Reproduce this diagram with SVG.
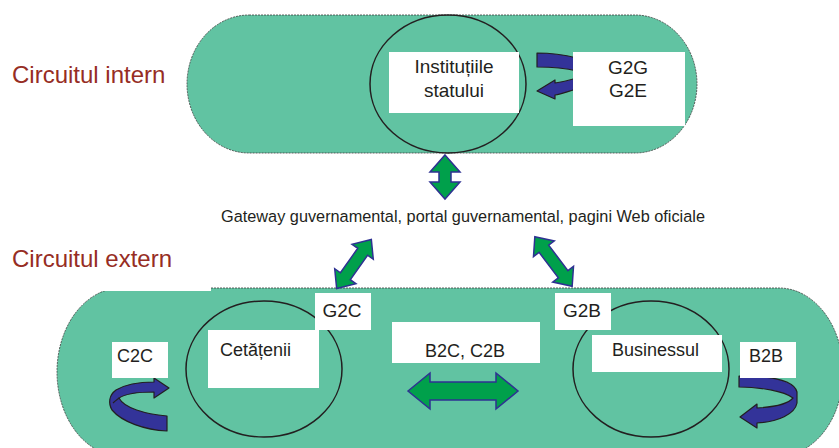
<svg xmlns="http://www.w3.org/2000/svg" width="839" height="448" viewBox="0 0 839 448">
<style>
.cap{fill:#61c3a2;stroke:#3a3a3a;stroke-width:0.8;stroke-dasharray:2 1}
.ell{fill:none;stroke:#231f20;stroke-width:1.5}
.box{fill:#ffffff}
.t{font-family:"Liberation Sans",Arial,sans-serif;fill:#231f20}
.lab{font-family:"Liberation Sans",Arial,sans-serif;font-size:24px;fill:#962d24}
.ga{fill:#00a04b;stroke:#2e3192;stroke-width:1.5;stroke-linejoin:miter}
.ba{fill:#333399;stroke:#231f20;stroke-width:1.2;stroke-linejoin:round}
</style>
<rect width="839" height="448" fill="#ffffff"/>

<g id="circuit-intern">
  <rect class="cap" x="187" y="15" width="510" height="138" rx="62" ry="69"/>
</g>
<g id="circuit-extern">
  <rect class="cap" x="57" y="288" width="786" height="168" rx="64" ry="84"/>
  <rect x="0" y="228" width="211" height="63" fill="#ffffff"/>
</g>

<text class="lab" x="12" y="83">Circuitul intern</text>
<text class="lab" x="12" y="267">Circuitul extern</text>

<g id="connectors">
  <polygon class="ga" points="445,155 460,172 451,172 451,182 460,182 445,199 430,182 439,182 439,172 430,172"/>
  <polygon class="ga" transform="translate(354,264) rotate(-54.7)" points="-30,0 -15,-13 -15,-6 15,-6 15,-13 30,0 15,13 15,6 -15,6 -15,13"/>
  <polygon class="ga" transform="translate(553.5,261.5) rotate(53)" points="-31,0 -16,-13 -16,-6 16,-6 16,-13 31,0 16,13 16,6 -16,6 -16,13"/>
  <polygon class="ga" points="408,391 430,373 430,382 496,382 496,373 518,391 496,409 496,400 430,400 430,409"/>
  <path class="ba" d="M537,53 L537,67 C552,67 565,68 577,71 L577,58 C565,55 552,53 537,53 Z"/>
  <path class="ba" d="M537,91 L555,80 L555,83 C563,82 570,80 577,78 L577,89 C569,91 562,94 555,95 L555,99 Z"/>
  <path class="ba" d="M167,431 C145,430 122,422 112,410 C108,403 109,395 116,390 C126,384 140,382 154,382 L154,378 L169,388 L154,398 L154,392 C140,392 125,394 119,398 C124,408 145,414 167,416 Z"/>
  <path class="ba" d="M113,403 C116,400 118,399 119,398"/>
  <path class="ba" d="M739,376 L739,387 C760,387 784,391 793,398 C788,404 775,407 757,408 L757,404 L740,417 L757,428 L757,423 C778,422 795,414 797,403 L797,392 C794,380 770,376 739,376 Z"/>
</g>

<g id="node-institutii">
  <ellipse class="ell" cx="448" cy="84" rx="78" ry="69"/>
  <rect class="box" x="389" y="52" width="130" height="61"/>
  <text class="t" x="454" y="73" font-size="19" text-anchor="middle">Instituțiile</text>
  <text class="t" x="454" y="97" font-size="19" text-anchor="middle">statului</text>
</g>
<g id="node-g2g">
  <rect class="box" x="573" y="52" width="112" height="74"/>
  <text class="t" x="628" y="74" font-size="19" text-anchor="middle">G2G</text>
  <text class="t" x="628" y="97" font-size="19" text-anchor="middle">G2E</text>
</g>

<text class="t" x="463" y="222" font-size="16.3" text-anchor="middle">Gateway guvernamental, portal guvernamental, pagini Web oficiale</text>

<g id="node-cetateni">
  <ellipse class="ell" cx="264" cy="369" rx="78" ry="68"/>
  <rect class="box" x="208" y="330" width="111" height="58"/>
  <text class="t" x="220" y="356" font-size="18">Cetățenii</text>
</g>
<g id="node-g2c">
  <rect class="box" x="315" y="293" width="56" height="37"/>
  <text class="t" x="342" y="317" font-size="19" text-anchor="middle">G2C</text>
</g>
<g id="node-c2c">
  <rect class="box" x="112" y="342" width="56" height="36"/>
  <text class="t" x="135" y="362" font-size="18" text-anchor="middle">C2C</text>
</g>
<g id="node-b2c">
  <rect class="box" x="392" y="322" width="148" height="41"/>
  <text class="t" x="465" y="357" font-size="18" text-anchor="middle">B2C, C2B</text>
</g>
<g id="node-businessul">
  <ellipse class="ell" cx="651" cy="369" rx="78" ry="68"/>
  <rect class="box" x="592" y="335" width="130" height="37"/>
  <text class="t" x="612" y="356" font-size="18">Businessul</text>
</g>
<g id="node-g2b">
  <rect class="box" x="555" y="293" width="56" height="37"/>
  <text class="t" x="582" y="317" font-size="19" text-anchor="middle">G2B</text>
</g>
<g id="node-b2b">
  <rect class="box" x="740" y="342" width="56" height="36"/>
  <text class="t" x="766" y="362" font-size="18" text-anchor="middle">B2B</text>
</g>
</svg>
